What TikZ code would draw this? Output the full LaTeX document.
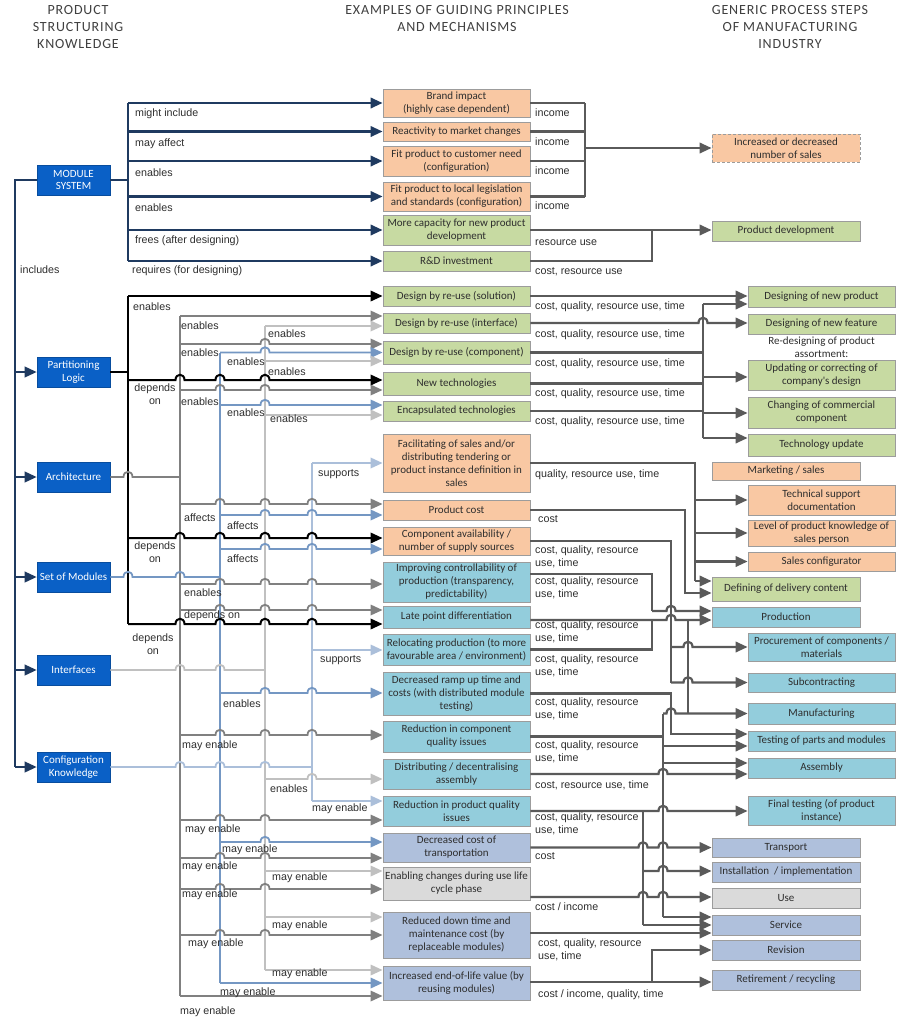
\documentclass[tikz,border=0pt]{standalone}
\usepackage{fontspec}
\setmainfont{Liberation Sans}
\newfontfamily\boxfont{Carlito}
\usetikzlibrary{arrows.meta}
\definecolor{cOr}{HTML}{F9C8A3}
\definecolor{cGr}{HTML}{C7DAA2}
\definecolor{cTe}{HTML}{93CDDC}
\definecolor{cSt}{HTML}{AFC0DC}
\definecolor{cLg}{HTML}{DADADA}
\definecolor{cSrc}{HTML}{0A60C6}
\definecolor{lNavy}{HTML}{1F3A60}
\definecolor{lArch}{HTML}{808080}
\definecolor{lSet}{HTML}{7497C3}
\definecolor{lInt}{HTML}{C0C0C0}
\definecolor{lCfg}{HTML}{ABBFDA}
\definecolor{lR}{HTML}{5A5A5A}
\definecolor{bdr}{HTML}{9C9C9C}
\definecolor{txt}{HTML}{2E2E2E}
\definecolor{hdrc}{HTML}{404040}
\newcounter{lc}
\newcommand{\hopline}[5]{\draw[#1] (#3) \foreach \h in {#5}{ -- (\h-4.5,#2) .. controls (\h-4.5,#2-7) and (\h+4.5,#2-7) .. (\h+4.5,#2)} -- (#4);}
\newcommand{\lab}[3]{\stepcounter{lc}\node[lbl] (lab\arabic{lc}) at (#1,#2) {#3};}
\newcommand{\labb}[3]{\stepcounter{lc}\node[lbl,anchor=north west] (lab\arabic{lc}) at (#1,#2-7) {#3};}
\tikzset{
  midbox/.style={draw=bdr, line width=0.9pt, minimum width=147pt, inner xsep=0pt, inner ysep=1pt, align=center, font=\boxfont\fontsize{11}{13}\selectfont, text=txt},
  colA/.style={midbox, minimum width=148pt},
  colB/.style={midbox},
  srcbox/.style={draw=cSrc!80!black, line width=0.6pt, fill=cSrc, minimum width=73pt, minimum height=30pt, inner sep=1pt, align=center, text=white, font=\boxfont\fontsize{11}{12.5}\selectfont},
  lbl/.style={font=\fontsize{10.7}{13}\selectfont, text=txt, inner sep=0pt, anchor=west, align=left},
  hdr/.style={font=\boxfont\addfontfeature{LetterSpace=6}\fontsize{14}{17}\selectfont, text=hdrc, align=center, inner sep=0pt},
  navy/.style={draw=lNavy, line width=2.2pt},
  blk/.style={draw=black, line width=2pt},
  arcl/.style={draw=lArch, line width=1.8pt},
  setl/.style={draw=lSet, line width=1.8pt},
  intl/.style={draw=lInt, line width=1.8pt},
  cfgl/.style={draw=lCfg, line width=1.8pt},
  rr/.style={draw=lR, line width=2.2pt}
}
\begin{document}
\begin{tikzpicture}[x=1pt,y=-1pt,>={Triangle[length=12pt,width=10.5pt]}]
\fill[white] (0,0) rectangle (902,1020);
\useasboundingbox (0,0) rectangle (902,1020);
% headers
\node[hdr] (h1) at (78,27) {PRODUCT\\STRUCTURING\\KNOWLEDGE};
\node[hdr] (h2) at (457,18.5) {EXAMPLES OF GUIDING PRINCIPLES\\AND MECHANISMS};
\node[hdr] (h3) at (790,27) {GENERIC PROCESS STEPS\\OF MANUFACTURING\\INDUSTRY};
% source boxes
\node[srcbox] (ms) at (73.5,180) {MODULE\\SYSTEM};
\node[srcbox] (pl) at (73.5,372) {Partitioning\\Logic};
\node[srcbox] (ar) at (73.5,477) {Architecture};
\node[srcbox] (sm) at (73.5,577) {Set of Modules};
\node[srcbox] (if) at (73.5,670) {Interfaces};
\node[srcbox] (ck) at (73.5,767) {Configuration\\Knowledge};
% middle boxes
\node[midbox,fill=cOr,minimum height=28pt] (m1) at (456.5,103) {Brand impact\\(highly case dependent)};
\node[midbox,fill=cOr,minimum height=19pt] (m2) at (456.5,131.5) {Reactivity to market changes};
\node[midbox,fill=cOr,minimum height=30pt] (m3) at (456.5,161) {Fit product to customer need\\(configuration)};
\node[midbox,fill=cOr,minimum height=29pt] (m4) at (456.5,196.5) {Fit product to local legislation\\and standards (configuration)};
\node[midbox,fill=cGr,minimum height=30pt] (m5) at (456.5,230) {More capacity for new product\\development};
\node[midbox,fill=cGr,minimum height=20pt] (m6) at (456.5,261) {R\&D investment};
\node[midbox,fill=cGr,minimum height=20pt] (m7) at (456.5,296) {Design by re-use (solution)};
\node[midbox,fill=cGr,minimum height=20pt] (m8) at (456.5,323) {Design by re-use (interface)};
\node[midbox,fill=cGr,minimum height=23pt] (m9) at (456.5,352.5) {Design by re-use (component)};
\node[midbox,fill=cGr,minimum height=23pt] (m10) at (456.5,383.5) {New technologies};
\node[midbox,fill=cGr,minimum height=20pt] (m11) at (456.5,411) {Encapsulated technologies};
\node[midbox,fill=cOr,minimum height=58pt] (m12) at (456.5,463) {Facilitating of sales and/or\\distributing tendering or\\product instance definition in\\sales};
\node[midbox,fill=cOr,minimum height=20pt] (m13) at (456.5,510) {Product cost};
\node[midbox,fill=cOr,minimum height=28pt] (m14) at (456.5,541) {Component availability /\\number of supply sources};
\node[midbox,fill=cTe,minimum height=40pt] (m15) at (456.5,582) {Improving controllability of\\production (transparency,\\predictability)};
\node[midbox,fill=cTe,minimum height=22pt] (m16) at (456.5,617) {Late point differentiation};
\node[midbox,fill=cTe,minimum height=31pt] (m17) at (456.5,649.5) {Relocating production (to more\\favourable area / environment)};
\node[midbox,fill=cTe,minimum height=43pt] (m18) at (456.5,693.5) {Decreased ramp up time and\\costs (with distributed module\\testing)};
\node[midbox,fill=cTe,minimum height=31pt] (m19) at (456.5,736.5) {Reduction in component\\quality issues};
\node[midbox,fill=cTe,minimum height=30pt] (m20) at (456.5,774) {Distributing / decentralising\\assembly};
\node[midbox,fill=cTe,minimum height=30pt] (m21) at (456.5,811) {Reduction in product quality\\issues};
\node[midbox,fill=cSt,minimum height=29pt] (m22) at (456.5,847.5) {Decreased cost of\\transportation};
\node[midbox,fill=cLg,minimum height=33pt] (m23) at (456.5,883.5) {Enabling changes during use life\\cycle phase};
\node[midbox,fill=cSt,minimum height=46pt] (m24) at (456.5,935) {Reduced down time and\\maintenance cost (by\\replaceable modules)};
\node[midbox,fill=cSt,minimum height=34pt] (m25) at (456.5,983) {Increased end-of-life value (by\\reusing modules)};
% right boxes
\node[colA,fill=cOr,minimum height=28pt,dash pattern=on 3pt off 2pt] (rA) at (786,148) {Increased or decreased\\number of sales};
\node[colA,fill=cGr,minimum height=20pt] (rB) at (786,231) {Product development};
\node[colB,fill=cGr,minimum height=21pt] (rC) at (821.5,296.5) {Designing of new product};
\node[colB,fill=cGr,minimum height=20pt] (rD) at (821.5,324) {Designing of new feature};
\node[font=\boxfont\fontsize{11}{13}\selectfont,text=txt,align=center,inner sep=0pt] (rtx) at (821.5,347) {Re-designing of product\\assortment:};
\node[colB,fill=cGr,minimum height=30pt] (rE) at (821.5,375) {Updating or correcting of\\company's design};
\node[colB,fill=cGr,minimum height=31pt] (rF) at (821.5,412.5) {Changing of commercial\\component};
\node[colB,fill=cGr,minimum height=22pt] (rG) at (821.5,445) {Technology update};
\node[colA,fill=cOr,minimum height=18pt] (rH) at (786,471) {Marketing / sales};
\node[colB,fill=cOr,minimum height=30pt] (rI) at (821.5,500) {Technical support\\documentation};
\node[colB,fill=cOr,minimum height=26pt] (rJ) at (821.5,533) {Level of product knowledge of\\sales person};
\node[colB,fill=cOr,minimum height=19pt] (rK) at (821.5,561.5) {Sales configurator};
\node[colA,fill=cGr,minimum height=24pt] (rL) at (786,589) {Defining of delivery content};
\node[colA,fill=cTe,minimum height=20pt] (rM) at (786,617) {Production};
\node[colB,fill=cTe,minimum height=28pt] (rN) at (821.5,647) {Procurement of components /\\materials};
\node[colB,fill=cTe,minimum height=19pt] (rO) at (821.5,682.5) {Subcontracting};
\node[colB,fill=cTe,minimum height=21pt] (rP) at (821.5,713.5) {Manufacturing};
\node[colB,fill=cTe,minimum height=20pt] (rQ) at (821.5,741) {Testing of parts and modules};
\node[colB,fill=cTe,minimum height=20pt] (rR) at (821.5,768) {Assembly};
\node[colB,fill=cTe,minimum height=29pt] (rS) at (821.5,810.5) {Final testing (of product\\instance)};
\node[colA,fill=cSt,minimum height=19pt] (rT) at (786,847.5) {Transport};
\node[colA,fill=cSt,minimum height=20pt] (rU) at (786,872) {Installation~~/ implementation};
\node[colA,fill=cLg,minimum height=20pt] (rV) at (786,898) {Use};
\node[colA,fill=cSt,minimum height=20pt] (rW) at (786,925) {Service};
\node[colA,fill=cSt,minimum height=20pt] (rX) at (786,950) {Revision};
\node[colA,fill=cSt,minimum height=20pt] (rY) at (786,980) {Retirement / recycling};

% ---------- left: includes bus
\draw[navy] (ms.west) -- (15,180) -- (15,767);
\foreach \n in {pl,ar,sm,if,ck} \draw[navy,->] (15,0 |- \n.west) -- (\n.west);
% module system
\draw[navy] (ms.east) -- (128,180);
\draw[navy] (128,103) -- (128,261);
\draw[navy,->] (128,103) -- (m1.west |- 0,103);
\draw[navy,->] (128,131.5) -- (m2.west |- 0,131.5);
\draw[navy,->] (128,161) -- (m3.west |- 0,161);
\draw[navy,->] (128,196.5) -- (m4.west |- 0,196.5);
\draw[navy,->] (128,230) -- (m5.west |- 0,230);
\draw[navy,->] (128,261) -- (m6.west |- 0,261);
% verticals
\draw[blk] (128,296) -- (128,624);
\draw[arcl] (180,316) -- (180,996);
\draw[setl] (220,352.5) -- (220,983);
\draw[intl] (265,326) -- (265,970);
\draw[cfgl] (312,463) -- (312,801);
% partitioning logic (black)
\draw[blk] (pl.east) -- (128,372);
\draw[blk,->] (128,296) -- (m7.west |- 0,296);
\hopline{blk,->}{380}{128,380}{m10.west |- 0,380}{180,220,265}
\hopline{blk,->}{538}{128,538}{m14.west |- 0,538}{180,220,265,312}
\hopline{blk,->}{624}{128,624}{m16.west |- 0,624}{180,220,265,312}
% architecture
\hopline{arcl}{477}{ar.east}{180,477}{128}
\draw[arcl,->] (180,316) -- (m8.west |- 0,316);
\hopline{arcl,->}{344}{180,344}{m9.west |- 0,344}{265}
\hopline{arcl,->}{390}{180,390}{m10.west |- 0,390}{220,265}
\hopline{arcl,->}{504}{180,504}{m13.west |- 0,504}{220,265,312}
\hopline{arcl,->}{584}{180,584}{m15.west |- 0,584}{220,265,312}
\hopline{arcl,->}{610}{180,610}{m16.west |- 0,610}{220,265,312}
\hopline{arcl,->}{735}{180,735}{m19.west |- 0,735}{220,265,312}
\hopline{arcl,->}{820}{180,820}{m21.west |- 0,820}{220,265}
\hopline{arcl,->}{858}{180,858}{m22.west |- 0,858}{220,265}
\hopline{arcl,->}{889}{180,889}{m23.west |- 0,889}{220,265}
\hopline{arcl,->}{935}{180,935}{m24.west |- 0,935}{220,265}
\draw[arcl,->] (180,996) -- (m25.west |- 0,996);
% set of modules
\hopline{setl}{577}{sm.east}{220,577}{128,180}
\hopline{setl,->}{352.5}{220,352.5}{m9.west |- 0,352.5}{265}
\hopline{setl,->}{405}{220,405}{m11.west |- 0,405}{265}
\hopline{setl,->}{515}{220,515}{m13.west |- 0,515}{265,312}
\hopline{setl,->}{549}{220,549}{m14.west |- 0,549}{265,312}
\hopline{setl,->}{693}{220,693}{m18.west |- 0,693}{265,312}
\hopline{setl,->}{842}{220,842}{m22.west |- 0,842}{265}
\draw[setl,->] (220,983) -- (m25.west |- 0,983);
% interfaces
\hopline{intl}{670}{if.east}{265,670}{180,220}
\draw[intl,->] (265,326) -- (m8.west |- 0,326);
\draw[intl,->] (265,361) -- (m9.west |- 0,361);
\draw[intl,->] (265,415) -- (m11.west |- 0,415);
\hopline{intl,->}{779}{265,779}{m20.west |- 0,779}{312}
\draw[intl,->] (265,871) -- (m23.west |- 0,871);
\draw[intl,->] (265,917) -- (m24.west |- 0,917);
\draw[intl,->] (265,970) -- (m25.west |- 0,970);
% configuration knowledge
\hopline{cfgl}{767}{ck.east}{312,767}{180,220,265}
\draw[cfgl,->] (312,463) -- (m12.west |- 0,463);
\draw[cfgl,->] (312,650) -- (m17.west |- 0,650);
\draw[cfgl,->] (312,801) -- (m21.west |- 0,801);

% ---------- right side
\draw[rr] (m1.east) -- (585,103);
\draw[rr] (m2.east) -- (585,131.5);
\draw[rr] (m3.east) -- (585,161);
\draw[rr] (m4.east) -- (585,196.5);
\draw[rr] (585,103) -- (585,196.5);
\draw[rr,->] (585,148) -- (rA.west);
\draw[rr,->] (m5.east) -- (rB.west |- 0,230);
\draw[rr] (m6.east) -- (652,261) -- (652,230);
\draw[rr,->] (m7.east) -- (rC.west |- 0,296);
\draw[rr] (703,304) -- (703,438);
\draw[rr,->] (703,304) -- (rC.west |- 0,304);
\hopline{rr,->}{323}{m8.east}{rD.west |- 0,323}{703}
\draw[rr] (m9.east) -- (703,352.5);
\draw[rr] (m10.east) -- (703,383.5);
\draw[rr] (m11.east) -- (703,411);
\draw[rr,->] (703,377) -- (rE.west |- 0,377);
\draw[rr,->] (703,413) -- (rF.west |- 0,413);
\draw[rr,->] (703,438) -- (rG.west |- 0,438);
% sales
\draw[rr] (m12.east) -- (695,463) -- (695,581);
\draw[rr,->] (695,581) -- (rL.west |- 0,581);
\draw[rr,->] (695,500) -- (rI.west);
\draw[rr,->] (695,533) -- (rJ.west);
\draw[rr,->] (695,561.5) -- (rK.west);
\draw[rr,->] (m13.east) -- (685,510) -- (685,593) -- (rL.west |- 0,593);
% production
\draw[rr] (m14.east) -- (671,541) -- (671,682.5);
\hopline{rr,->}{647}{671,647}{rN.west}{688}
\hopline{rr,->}{682.5}{671,682.5}{rO.west}{688}
\draw[rr] (m15.east |- 0,574) -- (652,574) -- (652,611);
\hopline{rr,->}{611}{652,611}{rM.west |- 0,611}{671}
\hopline{rr,->}{620}{m16.east |- 0,620}{rM.west |- 0,620}{671}
\draw[rr] (m17.east) -- (652,649.5) -- (652,620);
\draw[rr] (688,620) -- (688,713.5);
\hopline{rr,->}{713.5}{663,713.5}{rP.west}{671}
\draw[rr,->] (m18.east) -- (671,693.5) -- (671,734) -- (rQ.west |- 0,734);
\draw[rr] (m19.east) -- (663,736.5);
\draw[rr] (663,713.5) -- (663,917);
\draw[rr,->] (663,746) -- (rQ.west |- 0,746);
\draw[rr,->] (663,763) -- (rR.west |- 0,763);
\draw[rr,->] (663,917) -- (rW.west |- 0,917);
\hopline{rr,->}{774}{m20.east}{rR.west |- 0,774}{663}
\hopline{rr,->}{811}{m21.east}{rS.west |- 0,811}{663}
\draw[rr] (643,811) -- (643,925);
\hopline{rr,->}{871}{643,871}{rU.west |- 0,871}{663}
\draw[rr,->] (643,925) -- (rW.west);
\hopline{rr,->}{847.5}{m22.east}{rT.west}{643,663}
\hopline{rr,->}{897}{m23.east |- 0,897}{rV.west |- 0,897}{643,663}
\draw[rr,->] (m24.east |- 0,933) -- (rW.west |- 0,933);
\draw[rr,->] (m25.east |- 0,982) -- (rY.west |- 0,982);
\draw[rr,->] (652,982) -- (652,950) -- (rX.west);

% ---------- labels left
\lab{20}{270}{includes}
\lab{135}{114}{might include}
\lab{135}{144}{may affect}
\lab{135}{173}{enables}
\lab{135}{208}{enables}
\lab{135}{241}{frees (after designing)}
\lab{132}{271}{requires (for designing)}
\lab{133}{307}{enables}
\node[lbl,anchor=north,align=center] (dp1) at (155,384) {depends\\on};
\node[lbl,anchor=north,align=center] (dp2) at (155,542) {depends\\on};
\node[lbl,anchor=north,align=center] (dp3) at (153,634) {depends\\on};
\lab{181}{326}{enables}
\lab{181}{353}{enables}
\lab{181}{402}{enables}
\lab{184}{518}{affects}
\lab{184}{593}{enables}
\lab{184}{616}{depends on}
\lab{182}{746}{may enable}
\lab{185}{830}{may enable}
\lab{182}{867}{may enable}
\lab{182}{895}{may enable}
\lab{188}{944}{may enable}
\lab{180}{1012}{may enable}
\lab{227}{362}{enables}
\lab{227}{413}{enables}
\lab{227}{526}{affects}
\lab{227}{559}{affects}
\lab{223}{704}{enables}
\lab{222}{850}{may enable}
\lab{220}{993}{may enable}
\lab{268}{334}{enables}
\lab{268}{372}{enables}
\lab{270}{419}{enables}
\lab{270}{789}{enables}
\lab{272}{878}{may enable}
\lab{272}{926}{may enable}
\lab{272}{974}{may enable}
\lab{318}{474}{supports}
\lab{320}{660}{supports}
\lab{312}{809}{may enable}
% ---------- labels right
\lab{535}{113}{income}
\lab{535}{142}{income}
\lab{535}{171}{income}
\lab{535}{206}{income}
\lab{535}{243}{resource use}
\lab{535}{272}{cost, resource use}
\lab{535}{307}{cost, quality, resource use, time}
\lab{535}{335}{cost, quality, resource use, time}
\lab{535}{364}{cost, quality, resource use, time}
\lab{535}{394}{cost, quality, resource use, time}
\lab{535}{422}{cost, quality, resource use, time}
\lab{535}{475}{quality, resource use, time}
\lab{538}{519}{cost}
\labb{535}{553}{cost, quality, resource\\use, time}
\labb{535}{584}{cost, quality, resource\\use, time}
\labb{535}{628}{cost, quality, resource\\use, time}
\labb{535}{662}{cost, quality, resource\\use, time}
\labb{535}{705}{cost, quality, resource\\use, time}
\labb{535}{748}{cost, quality, resource\\use, time}
\lab{535}{785}{cost, resource use, time}
\labb{535}{820}{cost, quality, resource\\use, time}
\lab{535}{856}{cost}
\lab{535}{907}{cost / income}
\labb{538}{946}{cost, quality, resource\\use, time}
\lab{538}{995}{cost / income, quality, time}
\end{tikzpicture}
\end{document}
